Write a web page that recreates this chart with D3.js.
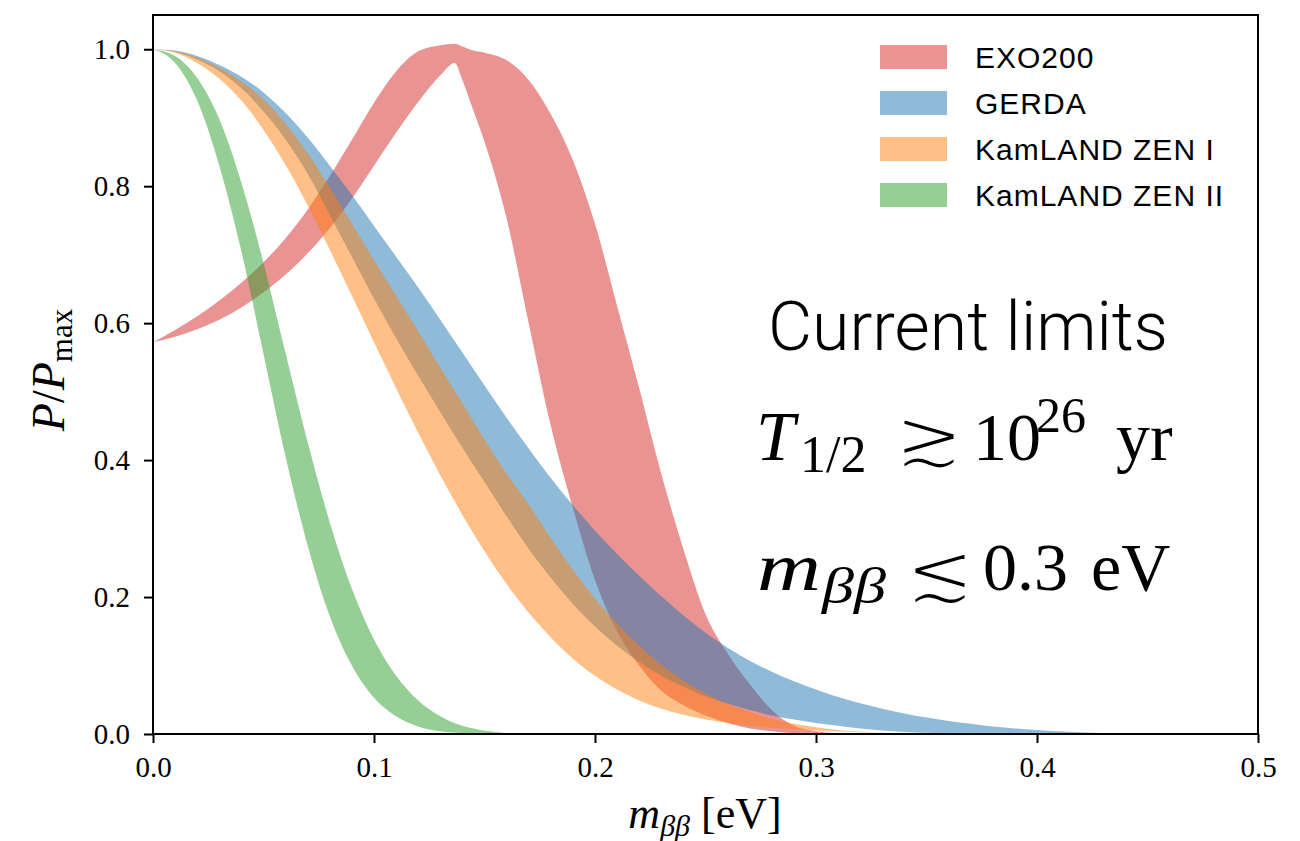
<!DOCTYPE html>
<html><head><meta charset="utf-8">
<script src="https://cdn.jsdelivr.net/npm/d3@7"></script>
<style>body{margin:0;background:#fff}</style>
</head><body>
<svg id="chart" width="1300" height="841"></svg>
<script>
// ---------------- data ----------------
const seriesNames  = ["EXO200", "GERDA", "KamLAND ZEN I", "KamLAND ZEN II"];
const seriesColors = ["#d62728", "#1f77b4", "#ff7f0e", "#2ca02c"];

// EXO200
const exoM  = [0, .01, .02, .03, .04, .05, .06, .07, .08, .09, .10, .11, .12, .13, .1365, .14, .145, .15, .16, .17, .18, .19, .20, .21, .22, .23, .24, .25, .26, .27, .28, .29, .30, .31, .32];
const exoLo = [.572, .580, .591, .605, .623, .645, .671, .702, .739, .782, .830, .878, .923, .962, .980, .955, .910, .865, .753, .600, .450, .330, .225, .150, .100, .063, .042, .027, .016, .008, .004, .001, 0, 0, 0];
const exoHi = [.572, .590, .610, .633, .659, .689, .724, .766, .815, .868, .922, .968, .997, 1.006, 1.008, 1.004, .998, .995, .984, .955, .905, .838, .745, .625, .505, .380, .270, .175, .118, .073, .035, .012, .004, .001, 0];

// GERDA
const gerdaM  = [0, .01, .02, .03, .04, .05, .06, .07, .08, .09, .10, .11, .12, .13, .14, .15, .16, .17, .18, .19, .20, .21, .22, .23, .24, .25, .26, .27, .28, .29, .30, .31, .32, .33, .34, .35, .36, .37, .38, .39, .40, .41, .42, .43, .44, .45];
const gerdaLo = [1, .996, .985, .968, .943, .909, .868, .818, .758, .697, .636, .578, .523, .470, .418, .368, .318, .270, .228, .190, .157, .129, .105, .085, .069, .055, .044, .035, .027, .021, .016, .012, .008, .005, .003, .0018, .001, .0004, 0, 0, 0, 0, 0, 0, 0, 0];
const gerdaHi = [1, .998, .990, .977, .960, .937, .907, .871, .830, .787, .742, .697, .652, .605, .557, .509, .462, .417, .374, .334, .297, .263, .231, .201, .173, .148, .126, .107, .091, .077, .065, .054, .045, .037, .030, .024, .019, .015, .011, .008, .006, .004, .0025, .0015, .0008, 0];

// KamLAND ZEN I
const kz1M  = [0, .01, .02, .03, .04, .05, .06, .07, .08, .09, .10, .11, .12, .13, .14, .15, .16, .17, .18, .19, .20, .21, .22, .23, .24, .25, .26, .27, .28, .29, .30, .31, .32, .33, .34, .35, .36];
const kz1Lo = [1, .995, .980, .957, .925, .882, .831, .772, .707, .640, .572, .505, .440, .378, .320, .267, .219, .177, .141, .110, .085, .065, .049, .037, .028, .021, .016, .012, .009, .007, .005, .0035, .0025, .0015, .001, .0005, 0];
const kz1Hi = [1, .997, .988, .973, .953, .927, .891, .848, .798, .745, .692, .640, .588, .535, .483, .430, .380, .335, .286, .240, .198, .161, .129, .101, .078, .059, .044, .032, .022, .015, .010, .006, .0035, .0018, .0008, .0002, 0];

// KamLAND ZEN II
const kz2M  = [0, .01, .02, .03, .04, .05, .06, .07, .08, .09, .10, .11, .12, .13, .14, .15, .16, .17];
const kz2Lo = [1, .980, .925, .830, .705, .555, .405, .275, .172, .100, .053, .026, .011, .004, .0013, .0003, 0, 0];
const kz2Hi = [1, .990, .958, .898, .805, .688, .556, .426, .309, .212, .138, .085, .049, .026, .012, .005, .0015, 0];

const xTicks = [0.0, 0.1, 0.2, 0.3, 0.4, 0.5];
const yTicks = [0.0, 0.2, 0.4, 0.6, 0.8, 1.0];
const xDomain = [0, 0.5];
const yDomain = [0, 1.05];

// ---------------- drawing ----------------
const series = [
  {name: seriesNames[0], color: seriesColors[0], m: exoM,   lo: exoLo,   hi: exoHi},
  {name: seriesNames[1], color: seriesColors[1], m: gerdaM, lo: gerdaLo, hi: gerdaHi},
  {name: seriesNames[2], color: seriesColors[2], m: kz1M,   lo: kz1Lo,   hi: kz1Hi},
  {name: seriesNames[3], color: seriesColors[3], m: kz2M,   lo: kz2Lo,   hi: kz2Hi}
];

const L = 153, R = 1258, T = 15, B = 734;
const svg = d3.select("#chart");
const x = d3.scaleLinear().domain(xDomain).range([L, R]);
const y = d3.scaleLinear().domain(yDomain).range([B, T]);

svg.append("defs").append("clipPath").attr("id", "clip")
  .append("rect").attr("x", L).attr("y", T).attr("width", R - L).attr("height", B - T);

const bands = svg.append("g").attr("clip-path", "url(#clip)");
series.forEach(s => {
  const pts = s.m.map((m, i) => ({m, lo: s.lo[i], hi: s.hi[i]}));
  const area = d3.area()
    .x(d => x(d.m)).y0(d => y(d.lo)).y1(d => y(d.hi))
    .curve(d3.curveMonotoneX);
  bands.append("path").datum(pts)
    .attr("d", area)
    .attr("fill", s.color).attr("fill-opacity", 0.5).attr("stroke", "none");
});

// axes
const serif = "'Liberation Serif', 'DejaVu Serif', serif";
const xAxis = d3.axisBottom(x).tickValues(xTicks).tickFormat(d3.format(".1f")).tickSize(9).tickSizeOuter(0).tickPadding(14);
const yAxis = d3.axisLeft(y).tickValues(yTicks).tickFormat(d3.format(".1f")).tickSize(9).tickSizeOuter(0).tickPadding(14);
const gx = svg.append("g").attr("transform", `translate(0,${B})`).call(xAxis);
const gy = svg.append("g").attr("transform", `translate(${L},0)`).call(yAxis);
[gx, gy].forEach(g => {
  g.select(".domain").remove();
  g.selectAll(".tick line").attr("stroke", "#000").attr("stroke-width", 2);
  g.selectAll(".tick text").attr("fill", "#000").attr("font-family", serif).attr("font-size", 29);
});
gx.selectAll(".tick text").attr("dy", "0.68em");

// frame
svg.append("rect").attr("x", L).attr("y", T).attr("width", R - L).attr("height", B - T)
  .attr("fill", "none").attr("stroke", "#000").attr("stroke-width", 2);

// axis labels
const xl = svg.append("text").attr("x", 705).attr("y", 828).attr("text-anchor", "middle")
  .attr("font-family", serif).attr("font-size", 44).attr("fill", "#000");
xl.append("tspan").attr("font-style", "italic").text("m");
xl.append("tspan").attr("font-style", "italic").attr("font-size", 30).attr("dy", 8).text("ββ");
xl.append("tspan").attr("dy", -8).text(" [eV]");

const yl = svg.append("text").attr("transform", "translate(64,370) rotate(-90)").attr("text-anchor", "middle")
  .attr("font-family", serif).attr("font-size", 46).attr("fill", "#000");
yl.append("tspan").attr("font-style", "italic").text("P");
yl.append("tspan").text("/");
yl.append("tspan").attr("font-style", "italic").text("P");
yl.append("tspan").attr("font-size", 31).attr("dy", 8).text("max");

// legend
const sans = "'Liberation Sans', Arial, sans-serif";
const lg = svg.append("g");
series.forEach((s, i) => {
  lg.append("rect").attr("x", 880).attr("y", 45 + i * 46).attr("width", 67).attr("height", 24)
    .attr("fill", s.color).attr("fill-opacity", 0.5);
  lg.append("text").attr("x", 975).attr("y", 68 + i * 46)
    .attr("font-family", sans).attr("font-size", 30).attr("letter-spacing", 1).attr("fill", "#000").text(s.name);
});

// annotations
svg.append("text").attr("x", 968).attr("y", 350).attr("text-anchor", "middle")
  .attr("font-family", "Roboto, 'Liberation Sans', sans-serif").attr("font-weight", 300)
  .attr("font-size", 68).attr("fill", "#000").text("Current limits");

function put(txt, xx, yy, size, opts = {}) {
  const t = svg.append("text").attr("x", xx).attr("y", yy).attr("font-size", size)
    .attr("font-family", opts.family || serif).attr("fill", "#000").text(txt);
  if (opts.italic) t.attr("font-style", "italic");
  if (opts.anchor) t.attr("text-anchor", opts.anchor);
  if (opts.len) t.attr("textLength", opts.len).attr("lengthAdjust", "spacingAndGlyphs");
  return t;
}
// relation sign as a single glyph, thinned with a white outline painted on top
function relation(ch, cx, yy) {
  put(ch, cx, yy, 84, {family: "'DejaVu Sans', 'DejaVu Serif', sans-serif", anchor: "middle"})
    .attr("stroke", "#fff").attr("stroke-width", 3.5).attr("paint-order", "fill");
}
// T_{1/2} ≳ 10^{26} yr
put("T", 756, 460, 70, {italic: true});
put("1/2", 800, 472, 52);
relation("≳", 929, 467);
put("10", 973, 460, 68);
put("26", 1036, 432, 50);
put("yr", 1116, 460, 68);
// m_{ββ} ≲ 0.3 eV
put("m", 757, 590, 68, {italic: true, len: 64});
put("ββ", 822, 603, 50, {italic: true, len: 64});
relation("≲", 940, 601);
put("0.3", 983, 590, 68);
put("eV", 1091, 590, 68);
</script>
</body></html>
